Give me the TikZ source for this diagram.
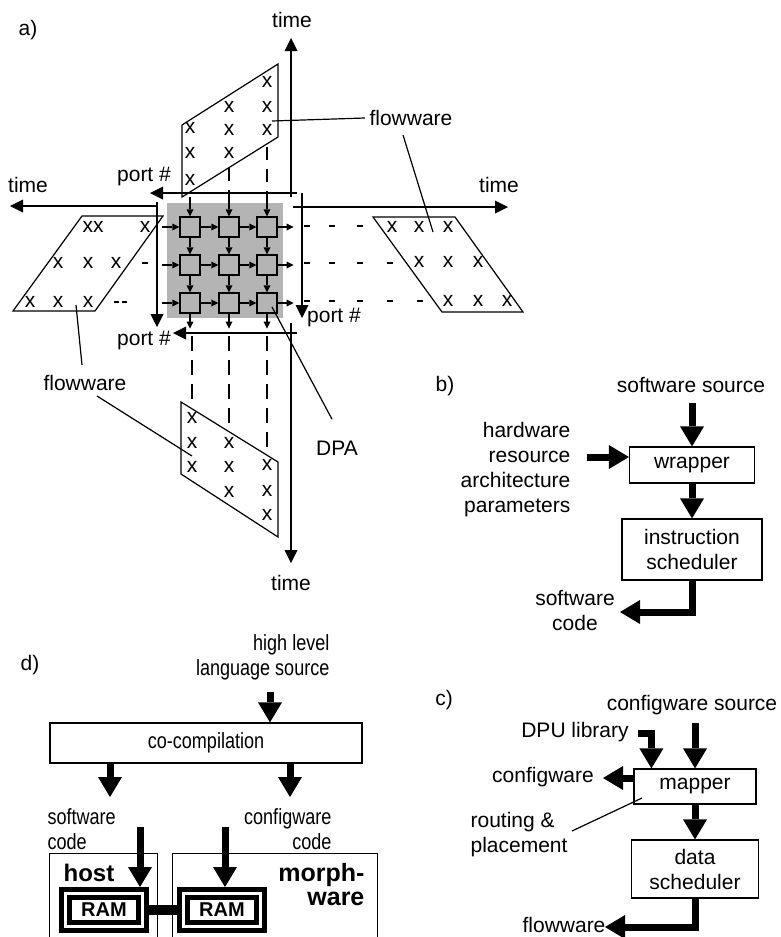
\documentclass[tikz,border=0pt]{standalone}
\usepackage{fontspec}
\setmainfont{Liberation Sans}
\newfontfamily\narrowsans[FakeStretch=0.82]{Liberation Sans}
\usetikzlibrary{arrows.meta,calc}

\definecolor{dpagray}{RGB}{180,180,180}

\begin{document}
\begin{tikzpicture}[x=1pt,y=-1pt,line width=1.2pt,
  every node/.style={inner sep=0pt,font=\fontsize{21}{25}\selectfont},
  nar/.style={font=\narrowsans\fontsize{22}{25}\selectfont},
  axis/.style={-{Triangle[length=13pt,width=13pt,line width=0pt]}},
  gridarr/.style={-{Triangle[length=7pt,width=7pt,line width=0pt]}},
  fat/.style={line width=7pt,-{Triangle[length=20pt,width=24pt,line width=0pt]}},
  box/.style={draw,fill=white},
  cell/.style={draw,fill=dpagray,minimum size=20pt},
  topdash/.style={dash pattern=on 13pt off 9pt},
  botdash/.style={dash pattern=on 15pt off 9pt},
  ram/.style={draw,line width=5pt,double,double distance=3pt,fill=white,
    minimum width=77pt,minimum height=33pt,outer sep=6.5pt,
    font=\bfseries\fontsize{20}{24}\selectfont}]
\useasboundingbox (0,0) rectangle (780,937);
\clip (0,0) rectangle (780,937);

% ================= a) data path array with its four data streams
\node (la) at (28,30) {a)};

% array field and its cells
\fill[dpagray] (167,203) rectangle (283,318);
\foreach \r/\yy in {1/227,2/265,3/303}{
  \foreach \c/\xx in {1/190,2/229,3/267}{
    \node[cell] (c\r\c) at (\xx,\yy) {};
  }
}
\foreach \r in {1,2,3}{
  \draw[gridarr] (c\r1.west) ++(-17,0) -- (c\r1.west);
  \draw[gridarr] (c\r1) -- (c\r2);
  \draw[gridarr] (c\r2) -- (c\r3);
  \draw[gridarr] (c\r3.east) -- ++(16,0);
}
\foreach \c in {1,2,3}{
  \draw[gridarr] (c1\c.north) ++(0,-19) -- (c1\c.north);
  \draw[gridarr] (c1\c) -- (c2\c);
  \draw[gridarr] (c2\c) -- (c3\c);
  \draw[gridarr] (c3\c.south) -- ++(0,15);
}

% axes: top stream
\coordinate (tpO) at (291,197); \coordinate (tpT) at (291,38);
\coordinate (tpP) at (297,193); \coordinate (tpQ) at (150,193);
\draw[axis] (tpO) -- (tpT);
\draw[axis] (tpP) -- (tpQ);
% axes: left stream
\coordinate (lfO) at (157,206); \coordinate (lfT) at (10,206);
\coordinate (lfP) at (157,202); \coordinate (lfQ) at (157,327);
\draw[axis] (lfO) -- (lfT);
\draw[axis] (lfP) -- (lfQ);
% axes: right stream
\coordinate (rtO) at (293,207); \coordinate (rtT) at (508,207);
\coordinate (rtP) at (302,193); \coordinate (rtQ) at (302,318);
\draw[axis] (rtO) -- (rtT);
\draw[axis] (rtP) -- (rtQ);
% axes: bottom stream
\coordinate (btP) at (297,333); \coordinate (btQ) at (173,333);
\coordinate (btO) at (291,323); \coordinate (btT) at (291,563);
\draw[axis] (btP) -- (btQ);
\draw[axis] (btO) -- (btT);

% axis labels
\node (tmTop) at (292,20) {time};
\node (tmLeft) at (28,185) {time};
\node (tmRight) at (499,185) {time};
\node (tmBot) at (291,583) {time};
\node (ptTop) at (144,176) {port \#};
\node (ptRight) at (334,317) {port \#};
\node (ptBot) at (144,340) {port \#};

% top flowware
\draw (182,125) -- (278,64) -- (278,137) -- (182,197) -- cycle;
\foreach \xx/\yy [count=\i] in {190/128,190/153,190/180,229/107,229/130,229/153,267/82,267/107,267/130}
  \node (xt\i) at (\xx,\yy) {x};
\draw[topdash] (267,147) -- (267,198);
\draw[topdash] (229,168) -- (229,198);

% left flowware
\draw (82,216) -- (163,216) -- (95,311) -- (13,311) -- cycle;
\foreach \xx/\yy/\t [count=\i] in {93/227/xx,145/227/x,58/263/x,88/263/x,116/263/x,30/302/x,58/302/x,88/302/x}
  \node (xl\i) at (\xx,\yy) {\t};
\draw (142,263) -- (148,263);
\draw (114,302) -- (119,302);
\draw (122,302) -- (127,302);

% right flowware
\draw (373,217) -- (455,217) -- (523,312) -- (442,312) -- cycle;
\foreach \xx/\yy [count=\i] in {392/227,419/227,448/227,419/262,448/262,478/262,448/301,478/301,507/301}
  \node (xr\i) at (\xx,\yy) {x};
\foreach \yy/\lst in {226/{307,332,360},263/{307,332,360,390},301/{307,332,360,390,420}}{
  \foreach \xx in \lst { \draw (\xx-3,\yy) -- (\xx+3,\yy); }
}

% bottom flowware
\draw (181,402) -- (278,462) -- (278,537) -- (181,474) -- cycle;
\foreach \xx/\yy [count=\i] in {192/418,192/443,192/467,229/443,229/467,229/492,267/465,267/491,267/515}
  \node (xb\i) at (\xx,\yy) {x};
\draw[botdash] (192,336) -- (192,400);
\draw[botdash] (229,336) -- (229,429);
\draw[botdash] (267,336) -- (267,453);

% callouts
\node (fwTop) at (411,118) {flowware};
\draw (fwTop.west) ++(-4,0) -- (272,121);
\draw (403,135) -- (433,232);
\node (fwBot) at (85,383) {flowware};
\draw (82,365) -- (76,305);
\draw (97,396) -- (192,456);
\node (dpa) at (337,448) {DPA};
\coordinate (dpaend) at (272,307);
\draw (dpa.north) ++(-5,-21) -- (dpaend);

% ================= b) software compilation
\node (lb) at (445,386) {b)};
\node (swsrc) at (691,385) {software source};
\node[box,minimum width=125pt,minimum height=36pt] (wrap) at (692,465) {wrapper};
\node[box,minimum width=140pt,minimum height=61pt,align=center] (isched) at (692,549.5) {instruction\\scheduler};
\node[align=right,anchor=east] (hw) at (571,470) {hardware\\resource\\architecture\\parameters};
\node[align=center] (swcode) at (575,610) {software\\code};
\coordinate (swin) at (692,403);
\coordinate (hwin) at (587,457);
\coordinate (swout) at (620,612);
\draw[fat] (swin) -- (wrap.north);
\draw[fat] (hwin) -- (hwin -| wrap.west);
\draw[fat] (wrap) -- (isched);
\draw[fat] (isched.south) |- (swout);

% ================= c) configware compilation
\node (lc) at (444,700) {c)};
\node (cwsrc) at (692,705) {configware source};
\node (dpulib) at (575,732) {DPU library};
\node[box,minimum width=122pt,minimum height=35pt] (mapper) at (695,786.5) {mapper};
\node[box,minimum width=127pt,minimum height=58pt,align=center] (dsched) at (695,869) {data\\scheduler};
\node (cwout) at (543,777) {configware};
\node[align=left,anchor=west] (rp) at (470,834.5) {routing \&\\placement};
\node (fwout) at (564,925) {flowware};
\coordinate (cwin) at (695,723);
\coordinate (dpuin) at (638,733);
\coordinate (cwtip) at (603,778);
\coordinate (fwtip) at (605,927);
\draw[fat] (cwin) -- (cwin |- mapper.north);
\draw[fat] (dpuin) -| ($(mapper.north west)+(18,0)$);
\draw[fat] (cwtip -| mapper.west) -- (cwtip);
\draw (572,831) -- (642,798);
\draw[fat] (mapper) -- (dsched);
\draw[fat] (dsched.south) |- (fwtip);

% ================= d) co-compilation onto host and morphware
\node (ld) at (30,665) {d)};
\node[nar,align=right,anchor=east] (hll) at (330,657) {high level\\language source};
\node[box,nar,minimum width=312pt,minimum height=40pt] (cocomp) at (206,743) {co-compilation};
\node[nar,align=left,anchor=west] (swc) at (47,829) {software\\code};
\node[nar,align=right,anchor=east] (cwc) at (332,829) {configware\\code};
\coordinate (hllin) at (270,692);
\coordinate (swdown) at (110,797);
\coordinate (cwdown) at (290,797);
\draw[fat] (hllin) -- (hllin |- cocomp.north);
\draw[fat] (swdown |- cocomp.south) -- (swdown);
\draw[fat] (cwdown |- cocomp.south) -- (cwdown);

\node[draw,minimum width=108pt,minimum height=92pt,anchor=north west] (host) at (49,853) {};
\node[draw,minimum width=205pt,minimum height=92pt,anchor=north west] (morph) at (172,853) {};
\node[font=\bfseries\fontsize{24}{28}\selectfont] (hostlbl) at (89,873) {host};
\node[font=\bfseries\fontsize{25}{24}\selectfont,align=right,anchor=east] (morphlbl) at (365,885) {morph-\\ware};
\node[ram] (ramL) at (104,910) {RAM};
\node[ram] (ramR) at (222,910) {RAM};
\draw[line width=10pt] (ramL.east) -- (ramR.west);
\coordinate (hostin) at (140,827);
\coordinate (morphin) at (225,827);
\draw[fat] (hostin) -- (hostin |- ramL.north);
\draw[fat] (morphin) -- (morphin |- ramR.north);
\end{tikzpicture}
\end{document}
